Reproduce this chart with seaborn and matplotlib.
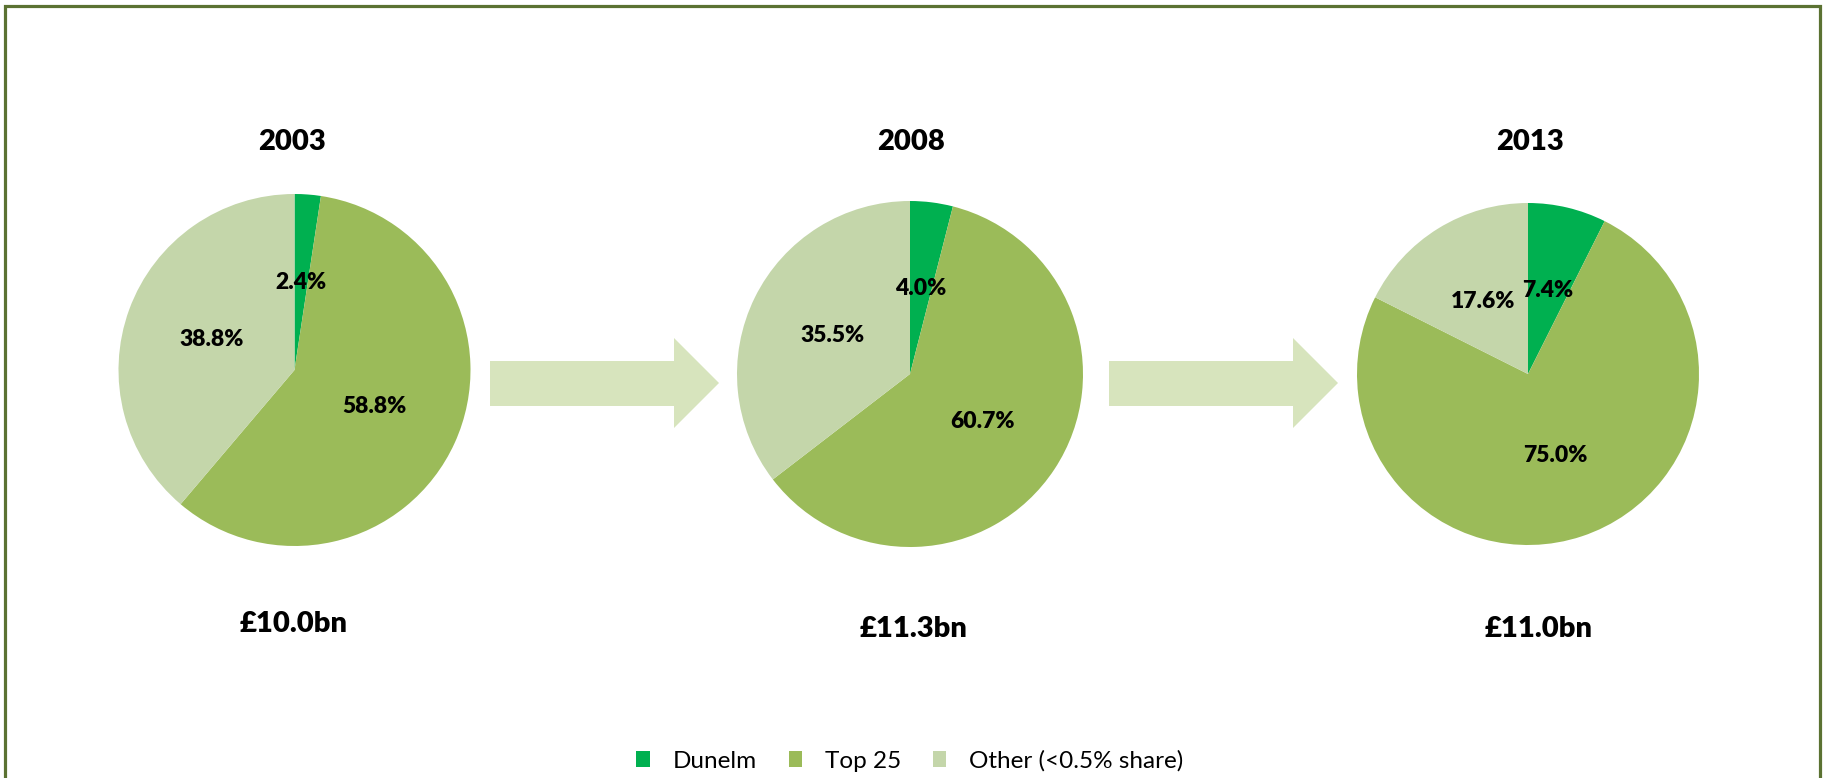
import matplotlib
matplotlib.use("Agg")
import matplotlib.pyplot as plt
from matplotlib.patches import Polygon
import seaborn as sns

# ---- data ----
years = ["2003", "2008", "2013"]
segments = ["Dunelm", "Top 25", "Other (<0.5% share)"]
dunelm = [2.4, 4.0, 7.4]
top25 = [58.8, 60.7, 75.0]
other = [38.8, 35.5, 17.6]
market_size = ["£10.0bn", "£11.3bn", "£11.0bn"]

colors = ["#00B050", "#9BBB59", "#C4D6AA"]
arrow_color = "#D7E4BD"
border_color = "#5B7232"

sns.set_theme(style="white")
plt.rcParams["font.family"] = ["Lato", "DejaVu Sans"]

W, H = 1825, 778
fig = plt.figure(figsize=(W / 100, H / 100), dpi=100)
fig.patch.set_facecolor("white")

# background overlay (pixel coordinates) for border and arrows
bg = fig.add_axes([0, 0, 1, 1], zorder=0)
bg.set_xlim(0, W)
bg.set_ylim(H, 0)
bg.axis("off")
bg.plot([5.5, 5.5, 1820.5, 1820.5], [H + 10, 5.5, 5.5, H + 10],
        color=border_color, lw=2.3, solid_joinstyle="miter", clip_on=False)

for x0 in (490, 1109):
    pts = [(x0, 361), (x0 + 184, 361), (x0 + 184, 338), (x0 + 229, 383),
           (x0 + 184, 428), (x0 + 184, 406), (x0, 406)]
    bg.add_patch(Polygon(pts, closed=True, facecolor=arrow_color, edgecolor="none"))

# pie layout (pixel centre x, centre y, radius)
layout = [(294.5, 370, 176), (910, 374, 173), (1528, 374, 171)]
title_pos = [(292, 142), (911, 142), (1530, 142)]
size_pos = [(294, 624), (914, 629), (1539, 629)]

wedges_ref = None
for i, year in enumerate(years):
    cx, cy, r = layout[i]
    ax = fig.add_axes([(cx - r) / W, 1 - (cy + r) / H, 2 * r / W, 2 * r / H], zorder=1)
    vals = [dunelm[i], top25[i], other[i]]
    labs = [f"{v:.1f}%" for v in vals]
    wedges, texts = ax.pie(vals, labels=labs, colors=colors, startangle=90,
                           counterclock=False, labeldistance=0.5,
                           wedgeprops=dict(linewidth=0))
    for t in texts:
        t.set_ha("center")
        t.set_va("center")
        t.set_fontsize(16.5)
        t.set_fontweight("heavy")
        t.set_color("black")
    ax.set_xlim(-1, 1)
    ax.set_ylim(-1, 1)
    ax.set_aspect("equal")
    ax.axis("off")
    if wedges_ref is None:
        wedges_ref = wedges
    tx, ty = title_pos[i]
    fig.text(tx / W, 1 - ty / H, year, ha="center", va="center",
             fontsize=21, fontweight="heavy", color="black")
    sx, sy = size_pos[i]
    fig.text(sx / W, 1 - sy / H, market_size[i], ha="center", va="center",
             fontsize=21, fontweight="heavy", color="black")

leg = fig.legend(wedges_ref, segments, loc="center", ncol=3,
                 bbox_to_anchor=(910 / W, 1 - 761 / H), frameon=False,
                 fontsize=17.5, handlelength=0.55, handleheight=0.66,
                 handletextpad=0.95, columnspacing=1.3)
for t in leg.get_texts():
    t.set_color("black")

fig.savefig("out.png", dpi=100, facecolor="white")
